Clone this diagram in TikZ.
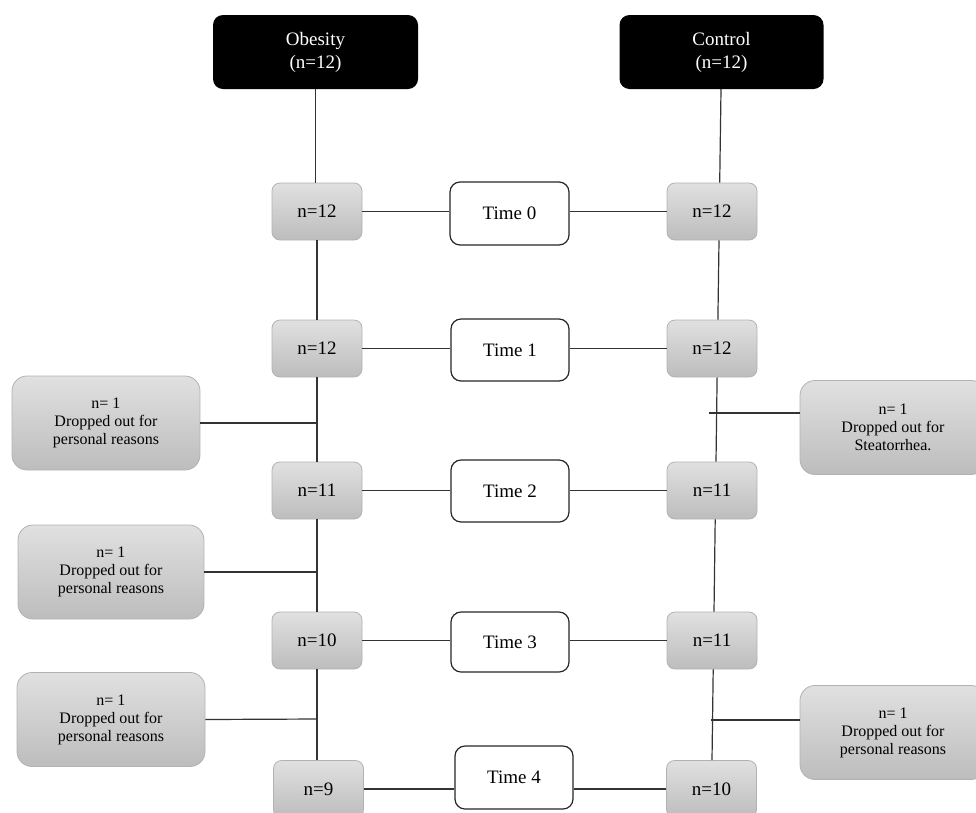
\documentclass[tikz,border=0pt]{standalone}
\usepackage{fontspec}
\setmainfont{Liberation Serif}
\begin{document}
\begin{tikzpicture}[x=1pt,y=-1pt,
  line/.style={draw=black!80,line width=1.2pt},
  grpbox/.style={fill=black,text=white,rounded corners=10pt,minimum width=205pt,minimum height=74pt,inner sep=0pt,align=center,font=\fontsize{19}{23}\selectfont},
  nbox/.style={draw=black!30,line width=0.8pt,top color=black!12,bottom color=black!26,rounded corners=8pt,minimum width=90pt,minimum height=57pt,inner sep=0pt,font=\fontsize{19}{23}\selectfont},
  timebox/.style={draw=black!85,line width=1.2pt,fill=white,rounded corners=10pt,minimum width=118pt,minimum height=62pt,inner sep=0pt,font=\fontsize{19}{23}\selectfont},
  dropbox/.style={draw=black!30,line width=0.8pt,top color=black!12,bottom color=black!26,rounded corners=15pt,minimum width=188pt,minimum height=94pt,inner sep=0pt,align=center,font=\fontsize{16}{18}\selectfont}
]
\useasboundingbox (0,0) rectangle (976,812);

\node[grpbox] (ob) at (315.5,52) {Obesity\\(n=12)};
\node[grpbox,minimum width=204pt] (co) at (721.5,52) {Control\\(n=12)};

\node[nbox] (l0) at (317,211.5) {n=12};
\node[nbox] (l1) at (317,348.5) {n=12};
\node[nbox] (l2) at (317,490.5) {n=11};
\node[nbox] (l3) at (317,640.5) {n=10};
\node[nbox] (l4) at (318.5,789) {n=9};

\node[nbox] (r0) at (712,211.5) {n=12};
\node[nbox] (r1) at (712,348.5) {n=12};
\node[nbox] (r2) at (712,490.5) {n=11};
\node[nbox] (r3) at (712,640.5) {n=11};
\node[nbox] (r4) at (711.5,789) {n=10};

\node[timebox,minimum width=119pt,minimum height=63pt] (t0) at (509.5,213.5) {Time 0};
\node[timebox] (t1) at (510,350) {Time 1};
\node[timebox] (t2) at (510,491) {Time 2};
\node[timebox,minimum height=60pt] (t3) at (510,642) {Time 3};
\node[timebox,minimum height=63pt] (t4) at (514,777.5) {Time 4};

\node[dropbox] (d1) at (106,423) {n= 1\\Dropped out for\\personal reasons};
\node[dropbox,minimum width=186pt] (d2) at (111,572) {n= 1\\Dropped out for\\personal reasons};
\node[dropbox] (d3) at (111,719.5) {n= 1\\Dropped out for\\personal reasons};
\node[dropbox,minimum width=186pt] (e1) at (893,427.5) {n= 1\\Dropped out for\\Steatorrhea.};
\node[dropbox,minimum width=186pt] (e2) at (893,732.5) {n= 1\\Dropped out for\\personal reasons};

% left vertical line
\draw[line] (ob.south) -- (ob.south |- l0.north);
\draw[line] (l0.south) -- (l1.north);
\draw[line] (l1.south) -- (l2.north);
\draw[line] (l2.south) -- (l3.north);
\draw[line] (l3.south) -- ([xshift=-1.5pt]l4.north);

% right vertical line (slightly slanted)
\draw[line] ([xshift=-0.5pt]co.south) -- ([xshift=7.7pt]r0.north);
\draw[line] ([xshift=7pt]r0.south) -- ([xshift=5.9pt]r1.north);
\draw[line] ([xshift=5.1pt]r1.south) -- ([xshift=4pt]r2.north);
\draw[line] ([xshift=3.2pt]r2.south) -- ([xshift=2pt]r3.north);
\draw[line] ([xshift=1.2pt]r3.south) -- ([xshift=0.5pt]r4.north);

% horizontal connectors to time boxes
\foreach \i in {0,1,2,3,4}{
  \draw[line] (l\i.east) -- (l\i.east -| t\i.west);
  \draw[line] (t\i.east |- r\i.west) -- (r\i.west);
}

% dropout connectors
\coordinate (j1) at (317,423);
\coordinate (j2) at (317,572);
\coordinate (j3) at (317,719);
\draw[line] (d1.east) -- (j1);
\draw[line] (d2.east) -- (j2);
\draw[line] (d3.east) -- (j3);
\coordinate (k1) at (709,413);
\coordinate (k2) at (711,720);
\draw[line] (k1) -- (k1 -| e1.west);
\draw[line] (k2) -- (k2 -| e2.west);
\end{tikzpicture}
\end{document}
